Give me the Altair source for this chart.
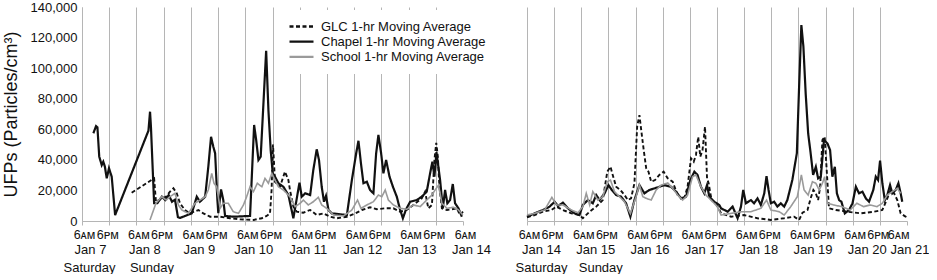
import json
import altair as alt
import pandas as pd

# ---------------- data (hours after 6 AM of first day, UFP particles/cm3) ----------------
series_names = ["GLC 1-hr Moving Average", "Chapel 1-hr Moving Average", "School 1-hr Moving Average"]
series_colors = ["#111111", "#111111", "#9a9a9a"]

glc_left = [(21.9,18500),(31.8,27900),(32.6,12600),(35.2,14800),(37.1,15900),(38.8,19200),(40.3,21400),
            (41.8,18100),(43.2,11600),(45.4,7200),(47.6,5000),(51.3,7200),(53.5,5000),(56.5,2800),
            (60.9,2800),(65.3,1800),(69.7,1100),(75.6,700),(79.3,1800),(81.4,3300),(82.9,5000),
            (83.6,20300),(84.2,50000),(84.6,39900),(85.1,25700),(87.3,22400),(89.5,32300),(91.0,26800),
            (91.7,20300),(93.2,9400),(94.7,6100),(97.6,5400),(100.6,7200),(103.5,3900),(106.5,5000),
            (109.4,2800),(112.4,1800),(116.8,2800),(120.5,5000),(123.4,7200),(127.0,9000),(130.0,7700),
            (133.7,8300),(137.3,8300),(140.3,6100),(143.2,7200),(146.1,10500),(149.8,14800),(151.3,19200),
            (152.7,8300),(154.3,10500),(155.4,39900),(156.2,51200),(156.9,42100),(157.6,22400),(158.7,8300),
            (160.9,7200),(163.1,7700),(165.3,8300),(166.7,3900),(168.0,6100)]

chapel_left = [(5.0,57400),(6.2,62100),(6.8,61300),(7.6,42100),(8.7,36600),(9.4,38800),(10.1,35500),
               (10.9,27900),(11.9,34500),(13.1,29000),(14.6,3900),(29.3,59100),(30.0,71500),(30.4,61700),
               (31.8,11600),(33.2,11600),(35.2,15900),(36.7,13700),(38.2,17000),(39.7,12600),(41.0,14000),
               (42.3,2500),(43.2,2000),(48.4,5000),(50.6,15900),(52.0,12600),(54.3,15900),(55.7,35500),
               (56.9,55100),(57.9,48600),(58.7,44300),(59.7,13700),(60.1,5200),(61.3,20700),(62.3,13700),
               (63.1,3300),(66.7,2800),(74.1,3300),(75.9,62800),(76.8,53000),(77.8,39900),(78.8,42100),
               (81.2,111400),(82.2,72600),(83.2,46400),(84.1,31200),(85.1,29000),(86.6,24700),(88.8,22400),
               (91.0,17000),(93.2,1800),(95.9,25100),(96.9,15900),(98.4,18100),(100.6,17000),(102.0,33400),
               (103.5,46900),(104.5,39900),(105.7,22400),(106.7,12600),(107.6,16400),(108.7,7200),
               (110.1,5000),(116.8,3900),(119.0,26800),(120.9,44300),(121.9,52500),(123.0,37700),
               (124.1,24700),(125.6,25700),(127.0,20300),(128.5,18100),(129.7,44300),(130.7,56300),
               (131.9,44300),(132.9,31200),(134.1,39900),(135.6,29000),(137.1,22400),(138.8,15900),
               (140.3,7200),(141.5,1800),(142.9,7700),(144.7,12600),(147.6,13700),(149.8,15900),
               (152.0,19200),(153.5,31200),(154.5,38800),(155.4,29000),(156.3,45000),(157.9,26800),
               (159.1,8300),(160.1,20300),(161.1,11600),(162.3,13700),(163.5,24200),(164.5,11600),
               (166.0,8300),(167.5,2800)]

school_left = [(30.0,700),(32.6,11600),(35.2,15900),(37.1,13700),(38.8,15900),(41.0,18100),(42.5,10500),
               (44.0,7200),(46.9,5000),(49.8,11600),(52.0,13700),(54.3,15900),(55.7,20300),(57.2,31200),
               (58.2,24700),(59.4,22400),(60.9,8300),(62.3,11600),(64.5,11600),(66.7,6100),(69.0,5000),
               (71.2,10500),(72.6,15900),(74.1,22400),(75.6,19200),(77.3,24700),(79.3,22400),(80.7,27900),
               (82.2,24700),(83.7,31200),(85.1,26800),(86.6,22400),(88.8,20300),(91.7,15900),(94.0,9400),
               (96.2,11600),(97.6,13700),(99.8,10500),(102.0,12600),(104.2,15500),(105.7,10500),
               (107.9,8300),(110.9,3900),(115.3,3300),(119.0,7200),(121.5,13700),(123.0,8300),
               (125.6,10500),(128.5,12600),(130.7,17000),(132.2,15900),(133.7,20300),(135.1,13700),
               (137.3,10500),(140.3,8300),(143.2,7700),(146.1,10500),(149.1,9400),(152.0,13700),
               (154.3,17000),(155.7,20300),(157.2,23500),(158.7,11600),(160.9,8300),(163.8,9000),
               (166.0,7200),(167.9,3900)]

glc_right = [(0.0,2400),(3.4,3900),(7.1,6100),(10.8,7200),(13.0,9400),(15.9,7200),(19.6,5000),(23.2,3900),
             (24.7,1800),(27.7,6100),(30.6,9400),(33.5,13700),(35.5,32300),(36.9,35500),(37.9,30100),
             (39.4,22400),(41.3,20300),(43.1,17000),(44.6,13700),(46.0,14800),(47.5,24700),(48.7,61700),
             (49.7,69300),(50.5,59500),(51.6,46400),(52.7,34500),(53.7,32300),(54.9,25700),(56.6,26800),
             (58.5,30100),(60.4,32300),(62.2,27900),(64.4,25700),(66.6,17000),(69.3,13700),(71.0,22400),
             (72.5,41000),(73.7,38800),(74.7,43200),(75.7,55100),(76.6,42100),(77.6,46400),(78.7,61700),
             (79.6,27900),(80.3,24700),(81.6,13700),(83.5,11600),(85.8,5000),(90.2,2800),(96.0,3900),
             (101.9,1800),(107.8,700),(113.7,1800),(118.1,2800),(120.3,700),(121.8,5400),(124.0,7200),
             (125.4,14800),(126.6,20300),(127.7,18100),(128.7,13700),(129.6,22400),(130.6,53000),
             (131.6,55100),(132.5,33400),(133.5,8300),(136.5,7200),(141.6,6100),(147.5,5000),(153.4,6100),
             (157.1,7200),(159.3,14800),(160.8,20300),(162.3,18100),(163.7,13700),(165.2,5000),
             (167.4,2800),(168.0,1000)]

chapel_right = [(0.0,2800),(3.4,5000),(7.1,7200),(10.0,9400),(12.2,12600),(13.7,9800),(15.9,12000),
                (18.1,8300),(21.0,5000),(23.2,3900),(24.7,10500),(26.9,13700),(29.1,11600),(30.6,17000),
                (32.1,13700),(34.3,18100),(36.0,23500),(37.5,20300),(39.4,17000),(41.6,15900),(43.8,11600),
                (45.7,2800),(47.5,13700),(49.7,23500),(51.9,18100),(54.1,20300),(57.8,22000),(60.7,23500),
                (63.7,22400),(65.9,19200),(68.1,14800),(70.3,15900),(72.2,26800),(74.0,32300),(75.4,30100),
                (76.9,22400),(78.4,18100),(79.6,23500),(80.6,15900),(82.8,12600),(85.0,10500),(85.8,8300),
                (88.7,6100),(90.9,9400),(93.1,1800),(94.6,9400),(95.6,20300),(96.8,11600),(99.0,13700),
                (100.4,11600),(101.9,14800),(103.4,10500),(104.9,18100),(105.9,29400),(106.8,20300),
                (107.8,11600),(109.3,12600),(110.7,9400),(112.2,11600),(113.7,9400),(115.1,13700),
                (117.3,26800),(119.3,44300),(120.3,87900),(121.3,128200),(122.2,114000),(123.2,83500),
                (124.3,57400),(125.4,44300),(126.5,30100),(127.7,35500),(128.7,27900),(129.9,29000),
                (131.3,53000),(132.8,50800),(134.0,46400),(135.0,29000),(136.1,35500),(137.0,18100),
                (138.0,13700),(139.0,12600),(140.5,5000),(142.4,7200),(143.9,11600),(145.4,22400),
                (146.8,18100),(148.3,19200),(149.8,14800),(151.2,12600),(153.1,20300),(154.2,29000),
                (155.2,26800),(156.1,39500),(157.1,24700),(158.2,13700),(159.3,17000),(160.5,23500),
                (161.5,18100),(163.0,20300),(164.2,24700),(165.2,18100),(165.9,12600)]

school_right = [(0.0,3900),(3.4,5000),(7.8,7200),(11.0,15500),(13.0,10500),(15.9,10500),(19.6,7200),
                (22.5,5400),(24.7,9400),(26.2,18100),(27.7,10500),(29.1,19200),(31.3,13700),(33.5,15900),
                (35.5,25700),(36.9,26800),(38.7,19200),(40.9,15900),(43.1,12600),(45.7,4800),(48.2,15900),
                (49.7,23500),(51.2,15900),(52.7,14800),(54.9,13700),(57.1,20300),(59.3,23500),(62.2,24900),
                (64.4,21300),(66.6,17000),(68.8,13700),(71.0,17000),(73.2,29000),(74.7,30100),(76.9,22400),
                (79.1,17000),(81.3,13700),(84.2,9400),(85.8,3900),(90.2,5000),(94.6,6100),(99.0,6100),
                (103.4,8300),(105.9,13700),(107.8,7200),(111.5,6100),(113.7,3900),(116.6,9400),
                (119.5,15900),(121.3,30100),(122.5,20300),(124.3,17000),(126.2,25700),(127.7,24700),
                (129.2,20300),(130.6,24700),(131.6,29000),(132.8,11600),(135.5,10500),(139.2,9400),
                (142.9,7200),(145.8,11600),(148.8,9400),(151.7,10500),(154.7,9400),(157.1,11600),
                (159.3,17000),(161.5,19200),(163.7,21300),(165.2,18100)]

# axis labels
time_ticks = [0, 12, 24, 36, 48, 60, 72, 84, 96, 108, 120, 132, 144, 156, 168]
date_ticks = [0, 24, 48, 72, 96, 120, 144, 168]
day_ticks = [0, 24]
left_dates = ["Jan 7", "Jan 8", "Jan 9", "Jan 10", "Jan 11", "Jan 12", "Jan 13", "Jan 14"]
right_dates = ["Jan 14", "Jan 15", "Jan 16", "Jan 17", "Jan 18", "Jan 19", "Jan 20", "Jan 21"]
day_names = ["Saturday", "Sunday"]
y_ticks = [0, 20000, 40000, 60000, 80000, 100000, 120000, 140000]
y_title = "UFPs (Particles/cm³)"

FONT = "Liberation Sans"
GRID = "#b5b5b5"
TEXT = "#111111"


def make_df(glc, chapel, school):
    rows = []
    for name, pts in zip(series_names, [glc, chapel, school]):
        for h, v in pts:
            rows.append({"hour": h, "ufp": v, "series": name})
    return pd.DataFrame(rows)


legend = alt.Legend(orient="none", legendX=203, legendY=3, title=None, fillColor="white", padding=10,
                    labelFont=FONT, labelFontSize=13, labelColor=TEXT, labelLimit=400,
                    symbolType="M-2.4,0H2.4", symbolSize=100, symbolStrokeWidth=2.3, labelOffset=13,
                    rowPadding=1.2)

xscale = alt.Scale(domain=[0, 168], nice=False, zero=False)
yscale = alt.Scale(domain=[0, 140000], nice=False)


def panel(glc, chapel, school, dates, right):
    df = make_df(glc, chapel, school)
    last_align = {"condition": {"test": "datum.value == 168", "value": "right"}, "value": "center"}
    time_axis = alt.Axis(
        orient="bottom", values=time_ticks, title=None,
        labelExpr="datum.value % 24 == 0 ? '6ᴀᴍ' : '6ᴘᴍ'",
        grid=True, gridColor=GRID, gridWidth=1,
        gridOpacity={"condition": {"test": "datum.value == 168", "value": 0}, "value": 1},
        domainColor=GRID, tickColor=GRID, tickSize=4, labelPadding=3,
        labelFont=FONT, labelFontSize=12.5, labelColor=TEXT, labelAngle=0,
        labelOverlap=False, labelFlush=False,
        labelOffset={"condition": {"test": "datum.value % 24 == 0", "value": 2}, "value": -2},
        labelAlign=last_align if right else "center",
    )
    date_axis = alt.Axis(
        orient="bottom", values=date_ticks, title=None,
        labelExpr=json.dumps(dates) + "[round(datum.value / 24)]",
        grid=False, domain=False, ticks=False, labelPadding=22,
        labelFont=FONT, labelFontSize=13, labelColor=TEXT, labelAngle=0,
        labelOverlap=False, labelFlush=False,
        labelOffset=({"condition": {"test": "datum.value == 168", "value": 22}, "value": 14} if right else 8),
        labelAlign=last_align if right else "center",
    )
    day_axis = alt.Axis(
        orient="bottom", values=day_ticks, title=None,
        labelExpr=json.dumps(day_names) + "[round(datum.value / 24)]",
        grid=False, domain=False, ticks=False, labelPadding=40,
        labelFont=FONT, labelFontSize=13, labelColor=TEXT, labelAngle=0,
        labelOverlap=False, labelFlush=False,
        labelOffset={"condition": {"test": "datum.value == 0", "value": 14 if right else 7},
                     "value": 19 if right else 15},
    )
    if right:
        y_axis = None
    else:
        y_axis = alt.Axis(values=y_ticks, format=",d", grid=False, ticks=False, domainColor=GRID,
                          labelFont=FONT, labelFontSize=13, labelColor=TEXT, labelPadding=5,
                          title=y_title, titleFont=FONT, titleFontSize=18, titleFontWeight="normal",
                          titleColor=TEXT, titlePadding=10)

    color = alt.Color("series:N", scale=alt.Scale(domain=series_names, range=series_colors), legend=legend)
    dash = alt.StrokeDash("series:N", scale=alt.Scale(domain=series_names, range=[[4, 2.5], [1, 0], [1, 0]]),
                          legend=legend)
    widths = [1.9, 2.2, 1.6]
    layers = []
    for i, name in enumerate(series_names):
        layers.append(
            alt.Chart(df).transform_filter(alt.datum.series == name)
            .mark_line(strokeWidth=widths[i], interpolate="linear")
            .encode(
                x=alt.X("hour:Q", scale=xscale, axis=time_axis if i == 0 else None),
                y=alt.Y("ufp:Q", scale=yscale, axis=y_axis),
                color=color, strokeDash=dash,
                order="hour:Q",
            )
        )
    date_layer = alt.Chart(pd.DataFrame({"hour": date_ticks})).mark_rule(opacity=0).encode(
        x=alt.X("hour:Q", scale=xscale, axis=date_axis))
    day_layer = alt.Chart(pd.DataFrame({"hour": day_ticks})).mark_rule(opacity=0).encode(
        x=alt.X("hour:Q", scale=xscale, axis=day_axis))
    width = 380 if right else 381
    return (alt.layer(*layers, date_layer, day_layer)
            .resolve_axis(x="independent")
            .properties(width=width, height=214))


left = panel(glc_left, chapel_left, school_left, left_dates, right=False)
right = panel(glc_right, chapel_right, school_right, right_dates, right=True)

chart = (alt.hconcat(left, right, spacing=64, bounds="flush")
         .properties(padding={"left": 2, "top": 1, "right": 0, "bottom": 0}, background="white")
         .configure_view(stroke=None))

chart.save("out.html", embed_options={"renderer": "svg", "actions": False})
